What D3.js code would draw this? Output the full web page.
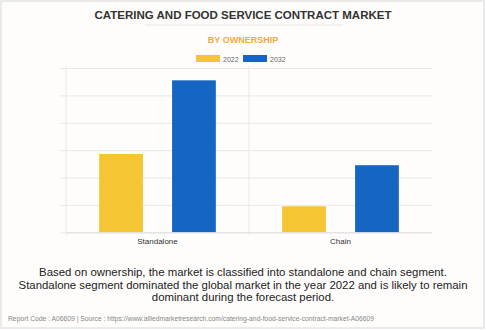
<!DOCTYPE html>
<html>
<head>
<meta charset="utf-8">
<script src="https://cdn.jsdelivr.net/npm/d3@7"></script>
<style>
  body { margin: 0; background: #ffffff; }
  svg { display: block; font-family: Arial, "Liberation Sans", sans-serif; }
</style>
</head>
<body>
<div class="visHolder"></div>
<script>
var width = 486,
  height = 330;

// chart data
var categories = ["Standalone", "Chain"];
var years = ["2022", "2032"];
var values2022 = [2.86, 0.95];
var values2032 = [5.55, 2.45];
var gridTicks = [0, 1, 2, 3, 4, 5, 6];

var data = categories.map(function (c, i) {
  return { category: c, "2022": values2022[i], "2032": values2032[i] };
});

var color = d3.scaleOrdinal()
  .domain(years)
  .range(["#f5c533", "#1565c2"]);

var svg = d3.select(".visHolder").append("svg")
  .attr("width", width)
  .attr("height", height);

// frame
svg.append("rect")
  .attr("x", 1).attr("y", 1)
  .attr("width", width - 3).attr("height", height - 3)
  .attr("fill", "#fefdfb")
  .attr("stroke", "#e4e4e4")
  .attr("stroke-width", 1.5);

// title block
svg.append("text")
  .attr("x", 243).attr("y", 19)
  .attr("text-anchor", "middle")
  .style("font-size", "11.5px")
  .style("font-weight", "bold")
  .style("fill", "#333333")
  .text("CATERING AND FOOD SERVICE CONTRACT MARKET");

svg.append("line")
  .attr("x1", 145).attr("x2", 343)
  .attr("y1", 25).attr("y2", 25)
  .attr("stroke", "#e6e6e6");

svg.append("text")
  .attr("x", 243).attr("y", 43)
  .attr("text-anchor", "middle")
  .style("font-size", "9px")
  .style("font-weight", "bold")
  .style("fill", "#f5a93a")
  .text("BY OWNERSHIP");

// legend
var legend = svg.append("g").attr("id", "legend")
  .selectAll("g")
  .data(years)
  .enter()
  .append("g")
  .attr("transform", function (d, i) { return "translate(" + (196 + i * 47) + ",55)"; });

legend.append("rect")
  .attr("width", 24)
  .attr("height", 7)
  .style("fill", color);

legend.append("text")
  .attr("x", 27)
  .attr("y", 6.5)
  .style("font-size", "7px")
  .style("fill", "#666666")
  .text(function (d) { return d; });

// scales
var plotLeft = 66, plotRight = 432, plotTop = 68, plotBottom = 232.3;

var x0 = d3.scaleBand()
  .domain(categories)
  .range([plotLeft, plotRight])
  .paddingInner(0)
  .paddingOuter(0);

var x1 = d3.scaleBand()
  .domain(years)
  .range([0, x0.bandwidth()])
  .paddingInner(0.4)
  .paddingOuter(0.455);

var yScale = d3.scaleLinear()
  .domain([0, 6])
  .range([plotBottom, plotTop]);

// horizontal grid
var yAxis = d3.axisLeft(yScale)
  .tickValues(gridTicks)
  .tickSize(-(plotRight - plotLeft) - 6)
  .tickFormat("");

svg.append("g")
  .attr("class", "grid")
  .attr("transform", "translate(" + (plotLeft - 6) + ",0)")
  .call(yAxis)
  .call(function (g) {
    g.select(".domain").remove();
    g.selectAll(".tick line").attr("stroke", "#e8e8e8");
  });

// vertical category separators
svg.append("g")
  .selectAll("line")
  .data([plotLeft, x0("Chain")])
  .enter()
  .append("line")
  .attr("x1", function (d) { return d; })
  .attr("x2", function (d) { return d; })
  .attr("y1", plotTop - 2)
  .attr("y2", plotBottom + 3)
  .attr("stroke", "#e8e8e8");

// bars
var groups = svg.append("g")
  .selectAll("g")
  .data(data)
  .enter()
  .append("g")
  .attr("transform", function (d) { return "translate(" + x0(d.category) + ",0)"; });

groups.selectAll("rect")
  .data(function (d) { return years.map(function (y) { return { year: y, value: d[y] }; }); })
  .enter()
  .append("rect")
  .attr("x", function (d) { return x1(d.year); })
  .attr("y", function (d) { return yScale(d.value); })
  .attr("width", x1.bandwidth())
  .attr("height", function (d) { return plotBottom - yScale(d.value); })
  .style("fill", function (d) { return color(d.year); });

// x axis labels
var xAxis = d3.axisBottom(x0).tickSize(0).tickPadding(6);
svg.append("g")
  .attr("transform", "translate(0," + plotBottom + ")")
  .call(xAxis)
  .call(function (g) {
    g.select(".domain").attr("stroke", "#e0e0e0");
    g.selectAll("text")
      .style("font-family", "Arial, 'Liberation Sans', sans-serif")
      .style("font-size", "8px")
      .style("fill", "#333333");
  });

// description
var desc = [
  "Based on ownership, the market is classified into standalone and chain segment.",
  "Standalone segment dominated the global market in the year 2022 and is likely to remain",
  "dominant during the forecast period."
];
svg.append("g")
  .selectAll("text")
  .data(desc)
  .enter()
  .append("text")
  .attr("x", 243)
  .attr("y", function (d, i) { return 276 + i * 12.5; })
  .attr("text-anchor", "middle")
  .style("font-size", "11.4px")
  .style("fill", "#222222")
  .text(function (d) { return d; });

svg.append("text")
  .attr("x", 8).attr("y", 320.5)
  .style("font-size", "6.75px")
  .style("fill", "#888888")
  .text("Report Code : A06609  |  Source : https://www.alliedmarketresearch.com/catering-and-food-service-contract-market-A06609");
</script>
</body>
</html>
